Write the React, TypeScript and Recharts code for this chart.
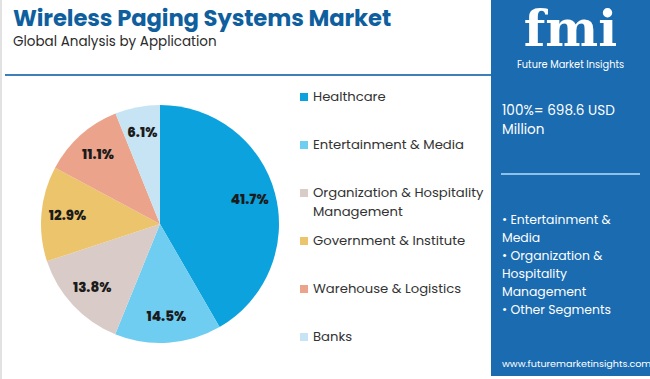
import { PieChart, Pie, Cell } from "recharts";

const segments = [
  "Healthcare",
  "Entertainment & Media",
  "Organization & Hospitality Management",
  "Government & Institute",
  "Warehouse & Logistics",
  "Banks",
];
const shares = [41.7, 14.5, 13.8, 12.9, 11.1, 6.1];
const colors = ["#0ba2dd", "#6fcdf2", "#d9ccc8", "#ecc46b", "#eca38b", "#c7e4f4"];
const legendLines = [
  ["Healthcare"],
  ["Entertainment & Media"],
  ["Organization & Hospitality", "Management"],
  ["Government & Institute"],
  ["Warehouse & Logistics"],
  ["Banks"],
];
const panelBullets = [
  "• Entertainment &",
  "Media",
  "• Organization &",
  "Hospitality",
  "Management",
  "• Other Segments",
];

const data = segments.map((name, i) => ({ name, value: shares[i] }));

const FONT = "Poppins, Inter, 'Open Sans', sans-serif";
const BLUE = "#1a6bb0";
const RAD = Math.PI / 180;

function PieLabel({ cx, cy, midAngle, outerRadius, value }: any) {
  const r = outerRadius * 0.78;
  const x = cx + r * Math.cos(-midAngle * RAD);
  const y = cy + r * Math.sin(-midAngle * RAD);
  return (
    <text
      x={x}
      y={y}
      textAnchor="middle"
      dominantBaseline="central"
      fontSize={13.5}
      fontWeight={800}
      fill="#1b1b1b"
      fontFamily={FONT}
    >
      {value.toFixed(1)}%
    </text>
  );
}

export default function App() {
  return (
    <div
      style={{
        position: "absolute",
        left: 0,
        top: 0,
        width: 650,
        height: 379,
        background: "#fff",
        fontFamily: FONT,
        overflow: "hidden",
      }}
    >
      <div style={{ position: "absolute", left: 0, top: 0, width: 2, height: 379, background: "#e2e2e2" }} />
      <div
        style={{
          position: "absolute",
          left: 13,
          top: 4,
          fontSize: 22.7,
          fontWeight: 700,
          color: "#0f5f9e",
          whiteSpace: "nowrap",
          letterSpacing: -0.1,
          lineHeight: "28px",
        }}
      >
        Wireless Paging Systems Market
      </div>
      <div
        style={{
          position: "absolute",
          left: 13,
          top: 33,
          fontSize: 13.5,
          color: "#2b2b2b",
          whiteSpace: "nowrap",
          lineHeight: "17px",
        }}
      >
        Global Analysis by Application
      </div>
      <div style={{ position: "absolute", left: 5, top: 74, width: 486, height: 2, background: "#3f7fb8" }} />

      <div style={{ position: "absolute", left: 10, top: 73.5 }}>
        <PieChart width={300} height={300}>
          <Pie
            data={data}
            dataKey="value"
            nameKey="name"
            cx="50%"
            cy="50%"
            outerRadius={119}
            startAngle={90}
            endAngle={-270}
            stroke="none"
            labelLine={false}
            label={PieLabel}
            isAnimationActive={false}
          >
            {data.map((d, i) => (
              <Cell key={d.name} fill={colors[i]} />
            ))}
          </Pie>
        </PieChart>
      </div>

      {legendLines.map((lines, i) => (
        <div key={segments[i]} style={{ position: "absolute", left: 300, top: 88 + i * 48 }}>
          <div
            style={{ position: "absolute", left: 0, top: 5, width: 8, height: 8, background: colors[i] }}
          />
          {lines.map((t, j) => (
            <div
              key={t}
              style={{
                position: "absolute",
                left: 13,
                top: j * 19,
                fontSize: 13.2,
                color: "#333",
                whiteSpace: "nowrap",
                lineHeight: "18px",
              }}
            >
              {t}
            </div>
          ))}
        </div>
      ))}

      <div style={{ position: "absolute", left: 491, top: 0, width: 159, height: 376, background: BLUE }}>
        <div
          style={{
            position: "absolute",
            left: 0,
            width: 159,
            top: 4,
            textAlign: "center",
            fontSize: 50,
            fontWeight: 700,
            fontFamily: "'DejaVu Serif', serif",
            color: "#fff",
            lineHeight: "50px",
          }}
        >
          fmi
        </div>
        <div
          style={{
            position: "absolute",
            left: 0,
            width: 159,
            top: 58,
            textAlign: "center",
            fontSize: 9.8,
            color: "#fff",
            lineHeight: "13px",
          }}
        >
          Future Market Insights
        </div>
        <div style={{ position: "absolute", left: 11, top: 101, fontSize: 13.6, color: "#fff", lineHeight: "19px" }}>
          100%= 698.6 USD
          <br />
          Million
        </div>
        <div style={{ position: "absolute", left: 10, top: 173, width: 139, height: 2, background: "#8fc0e6" }} />
        {panelBullets.map((t, i) => (
          <div
            key={t}
            style={{
              position: "absolute",
              left: 11,
              top: 211 + i * 18,
              fontSize: 12.4,
              color: "#fff",
              whiteSpace: "nowrap",
              lineHeight: "18px",
            }}
          >
            {t}
          </div>
        ))}
        <div style={{ position: "absolute", left: 11, top: 357, fontSize: 9.6, color: "#fff", whiteSpace: "nowrap" }}>
          www.futuremarketinsights.com
        </div>
      </div>
    </div>
  );
}
